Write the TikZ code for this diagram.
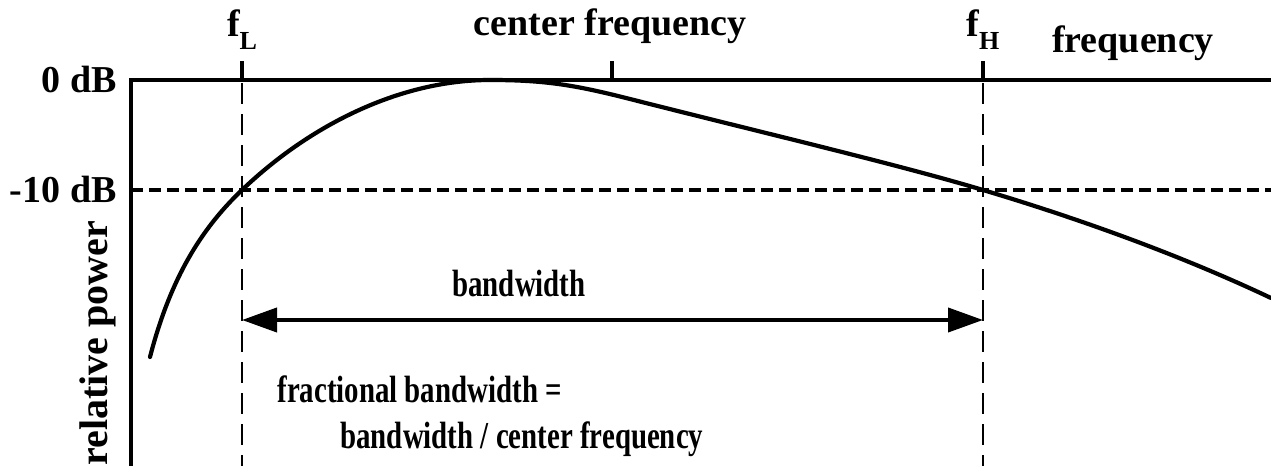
\documentclass[tikz,border=0pt]{standalone}
\usepackage{fontspec}
\usepackage{graphicx}
\setmainfont{Liberation Serif}
\usetikzlibrary{arrows.meta}

\newcommand{\fsub}[1]{\raisebox{-6pt}{\fontsize{13}{13}\selectfont #1}}
\newcommand{\condensed}[1]{\scalebox{0.76}[1]{#1}}

\begin{document}
\begin{tikzpicture}[x=0.5pt, y=-0.5pt,
						axis/.style={line width=1.8pt, line join=miter},
						tick/.style={line width=1.7pt},
						guide/.style={line width=1.3pt, dash pattern=on 10.5pt off 5pt, dash phase=14pt},
						level/.style={line width=1.7pt, dash pattern=on 6pt off 3pt},
						response/.style={line width=2.1pt, line cap=round},
						span/.style={line width=2pt, {Triangle[length=17.5pt, width=12pt]}-{Triangle[length=17.5pt, width=12pt]}},
						txt/.style={inner sep=0pt, font=\fontsize{19}{19}\selectfont\bfseries},
						note/.style={inner sep=0pt, font=\fontsize{19}{19}\selectfont\bfseries}
					]
					\useasboundingbox (0,0) rectangle (1271,466);
					\coordinate (corner) at (131,80);
					\coordinate (ybottom) at (131,466);
					\coordinate (xright) at (1271,80);
					\coordinate (fLtop) at (242,61);
					\coordinate (fLbottom) at (242,466);
					\coordinate (fHtop) at (983,61);
					\coordinate (fHbottom) at (983,466);
					\coordinate (fctop) at (612,61);
					\coordinate (levelleft) at (131,190);
					\coordinate (levelright) at (1271,190);
					\coordinate (bwleft) at (242,320);
					\coordinate (bwright) at (983,320);
					\node[txt, anchor=east] (zerodb) at (117,80) {0 dB};
					\node[txt, anchor=east] (tendb) at (117,190) {-10 dB};
					\node[txt, anchor=base, rotate=90, font=\fontsize{20}{20}\selectfont\bfseries] (power) at (107,343) {relative power};
					\node[txt, anchor=base] (fL) at (242,37) {f\fsub{L}};
					\node[txt, anchor=base] (fH) at (983,37) {f\fsub{H}};
					\node[txt, anchor=base] (fc) at (610,35) {center frequency};
					\node[txt, anchor=base] (freq) at (1133,53) {frequency};
					\node[note, anchor=base west] (bw) at (452,296) {\condensed{bandwidth}};
					\node[note, anchor=base west] (fraction) at (277,402) {\condensed{fractional bandwidth =}};
					\node[note, anchor=base west] (ratio) at (340,448) {\condensed{bandwidth / center frequency}};
					\draw[axis] (ybottom) -- (corner) -- (xright);
					\draw[tick] (fLtop) -- (fLtop |- corner);
					\draw[tick] (fHtop) -- (fHtop |- corner);
					\draw[tick] (fctop) -- (fctop |- corner);
					\draw[guide] (fLtop |- corner) -- (fLbottom);
					\draw[guide] (fHtop |- corner) -- (fHbottom);
					\draw[level] (levelleft) -- (levelright);
					\draw[response] (150,357) .. controls (170,280) and (200,230) .. (242,190)
						.. controls (310,125) and (400,80) .. (490,80)
						.. controls (545,80) and (575,85) .. (630,99)
						.. controls (760,132) and (900,165) .. (983,190)
						.. controls (1080,219) and (1180,255) .. (1271,298);
					\draw[span] (bwleft) -- (bwright);
					\end{tikzpicture}
\end{document}
